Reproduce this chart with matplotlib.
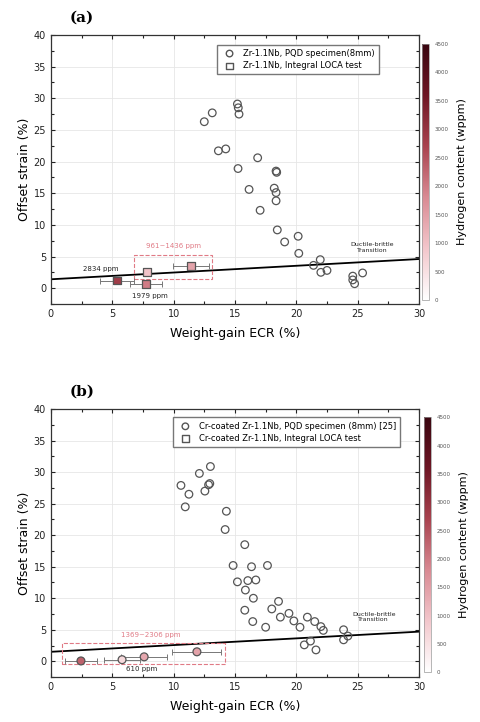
import numpy as np
import matplotlib
matplotlib.use("Agg")
import matplotlib.pyplot as plt
from matplotlib.colors import LinearSegmentedColormap, Normalize
from matplotlib.patches import Rectangle
from matplotlib.ticker import MultipleLocator

plt.rcParams['font.family'] = ['DejaVu Sans']

# ---------------- Panel (a) data ----------------
a_pqd_ecr = [12.5, 13.15, 15.2, 15.27, 15.33, 13.65, 14.25, 16.85, 15.25, 18.35, 18.4,
             16.15, 18.2, 18.35, 18.35, 17.05, 18.45, 19.05, 20.15, 20.2, 21.95, 21.4,
             22.0, 22.5, 24.6, 24.6, 24.75, 25.4]
a_pqd_strain = [26.3, 27.7, 29.1, 28.5, 27.5, 21.7, 22.0, 20.6, 18.9, 18.5, 18.3,
                15.6, 15.8, 15.1, 13.8, 12.3, 9.2, 7.3, 8.2, 5.5, 4.5, 3.6,
                2.5, 2.8, 1.9, 1.3, 0.7, 2.4]
a_loca_ecr = [5.4, 7.75, 7.8, 11.4]
a_loca_strain = [1.2, 0.6, 2.6, 3.5]
a_loca_xerr = [1.4, 1.3, 0.0, 1.45]
a_loca_h = [2834, 1979, 961, 1436]
a_fit_x = [0, 30]
a_fit_y = [1.4, 4.6]

# ---------------- Panel (b) data ----------------
b_pqd_ecr = [10.6, 10.95, 11.25, 12.1, 12.55, 12.85, 12.95, 13.0, 14.2, 14.3, 15.8,
             14.85, 15.2, 15.85, 16.05, 16.35, 16.7, 16.5, 15.8, 16.45, 17.65, 17.5,
             18.0, 18.55, 18.7, 19.4, 19.8, 20.3, 20.9, 21.5, 22.0, 22.2, 20.65,
             21.15, 21.6, 23.85, 23.85, 24.2]
b_pqd_strain = [27.9, 24.5, 26.5, 29.8, 27.0, 28.0, 28.2, 30.9, 20.9, 23.8, 18.5,
                15.2, 12.6, 11.3, 12.8, 15.0, 12.9, 10.0, 8.1, 6.3, 15.2, 5.4,
                8.3, 9.5, 7.0, 7.6, 6.4, 5.4, 7.0, 6.3, 5.5, 4.9, 2.6,
                3.2, 1.8, 5.0, 3.4, 4.0]
b_loca_ecr = [2.45, 5.8, 7.6, 11.9]
b_loca_strain = [0.05, 0.25, 0.7, 1.5]
b_loca_xerr = [1.3, 1.5, 1.9, 2.0]
b_loca_h = [2306, 610, 1369, 1450]
b_fit_x = [0, 30]
b_fit_y = [1.5, 4.7]

cmap = LinearSegmentedColormap.from_list(
    "hyd", ["#ffffff", "#f2c6cb", "#d98a93", "#a9434f", "#6e1624", "#3a0610"])
norm = Normalize(0, 4500)

fig = plt.figure(figsize=(4.8, 7.22), dpi=100)


def panel(ax_rect, cb_rect, tag, pqd_x, pqd_y, loca_x, loca_y, loca_xerr, loca_h,
          loca_marker, fit_x, fit_y, leg_labels, leg_bbox, box, box_label, box_label_xy,
          notes, trans_xy):
    ax = fig.add_axes(ax_rect)
    ax.set_xlim(0, 30)
    ax.set_ylim(-2.5, 40)
    ax.xaxis.set_major_locator(MultipleLocator(5))
    ax.xaxis.set_minor_locator(MultipleLocator(2.5))
    ax.yaxis.set_major_locator(MultipleLocator(5))
    ax.yaxis.set_minor_locator(MultipleLocator(2.5))
    ax.set_yticks([0, 5, 10, 15, 20, 25, 30, 35, 40])
    ax.grid(True, which='major', color='#e6e6e6', lw=0.6)
    ax.set_axisbelow(True)
    ax.tick_params(which='both', direction='in', top=True, right=True,
                   labelsize=7, colors='#222222', length=3, width=0.8)
    ax.tick_params(which='minor', length=2)
    for s in ax.spines.values():
        s.set_linewidth(0.9)
        s.set_color('#333333')
    ax.plot(fit_x, fit_y, color='black', lw=1.3, zorder=2)
    h1 = ax.scatter(pqd_x, pqd_y, s=30, facecolors='none', edgecolors='#555555',
                    linewidths=0.9, marker='o', zorder=3)
    ax.errorbar(loca_x, loca_y, xerr=loca_xerr, fmt='none', ecolor='#777777',
                elinewidth=0.7, capsize=2, capthick=0.7, zorder=3)
    h2 = ax.scatter(loca_x, loca_y, s=32, c=loca_h, cmap=cmap, norm=norm,
                    edgecolors='#555555', linewidths=0.9, marker=loca_marker, zorder=4)
    # legend proxies
    p1 = ax.scatter([], [], s=22, facecolors='none', edgecolors='#555555', marker='o')
    p2 = ax.scatter([], [], s=22, facecolors='none', edgecolors='#555555', marker='s')
    ax.legend([p1, p2], leg_labels, loc='upper left', bbox_to_anchor=leg_bbox,
              fontsize=6, frameon=True, fancybox=False, edgecolor='#777777',
              handletextpad=0.6, borderpad=0.5, labelspacing=0.4, framealpha=1)
    bx0, bx1, by0, by1 = box
    ax.add_patch(Rectangle((bx0, by0), bx1 - bx0, by1 - by0, fill=False,
                           ec='#e07a85', ls='--', lw=0.8, zorder=2))
    ax.text(box_label_xy[0], box_label_xy[1], box_label, color='#e07a85', fontsize=5,
            ha='center', va='center')
    for (tx, ty, t) in notes:
        ax.text(tx, ty, t, fontsize=5, ha='center', va='center', color='#222222')
    ax.text(trans_xy[0], trans_xy[1], "Ductile-brittle\nTransition", fontsize=4.5,
            ha='center', va='center', color='#222222', linespacing=1.1)
    ax.set_xlabel("Weight-gain ECR (%)", fontsize=9, labelpad=6)
    ax.set_ylabel("Offset strain (%)", fontsize=9, labelpad=2)
    fig.text(ax_rect[0] + 0.04, ax_rect[1] + ax_rect[3] + 0.015, tag, fontsize=11,
             fontweight='bold', family='DejaVu Serif', ha='left', va='bottom')
    cax = fig.add_axes(cb_rect)
    cb = fig.colorbar(h2, cax=cax)
    cb.set_ticks(np.arange(0, 4501, 500))
    cb.ax.tick_params(labelsize=4, length=0, colors='#555555', pad=4)
    cb.outline.set_linewidth(0.5)
    cb.outline.set_edgecolor('#999999')
    cb.set_label("Hydrogen content (wppm)", fontsize=8, labelpad=6)
    return ax


panel([0.106, 0.579, 0.767, 0.3725], [0.879, 0.5845, 0.0146, 0.3545], "(a)",
      a_pqd_ecr, a_pqd_strain, a_loca_ecr, a_loca_strain, a_loca_xerr, a_loca_h, 's',
      a_fit_x, a_fit_y,
      ["Zr-1.1Nb, PQD specimen(8mm)", "Zr-1.1Nb, Integral LOCA test"], (0.44, 0.98),
      (6.8, 13.1, 1.5, 5.2), "961~1436 ppm", (10.0, 6.6),
      [(4.1, 3.0, "2834 ppm"), (8.1, -1.3, "1979 ppm")], (26.2, 6.4))

panel([0.106, 0.0623, 0.767, 0.371], [0.883, 0.069, 0.0146, 0.353], "(b)",
      b_pqd_ecr, b_pqd_strain, b_loca_ecr, b_loca_strain, b_loca_xerr, b_loca_h, 'o',
      b_fit_x, b_fit_y,
      ["Cr-coated Zr-1.1Nb, PQD specimen (8mm) [25]", "Cr-coated Zr-1.1Nb, Integral LOCA test"],
      (0.32, 0.985),
      (0.9, 14.2, -0.5, 2.9), "1369~2306 ppm", (8.1, 4.2),
      [(7.4, -1.3, "610 ppm")], (26.3, 7.0))

fig.savefig("out.png", dpi=100)
